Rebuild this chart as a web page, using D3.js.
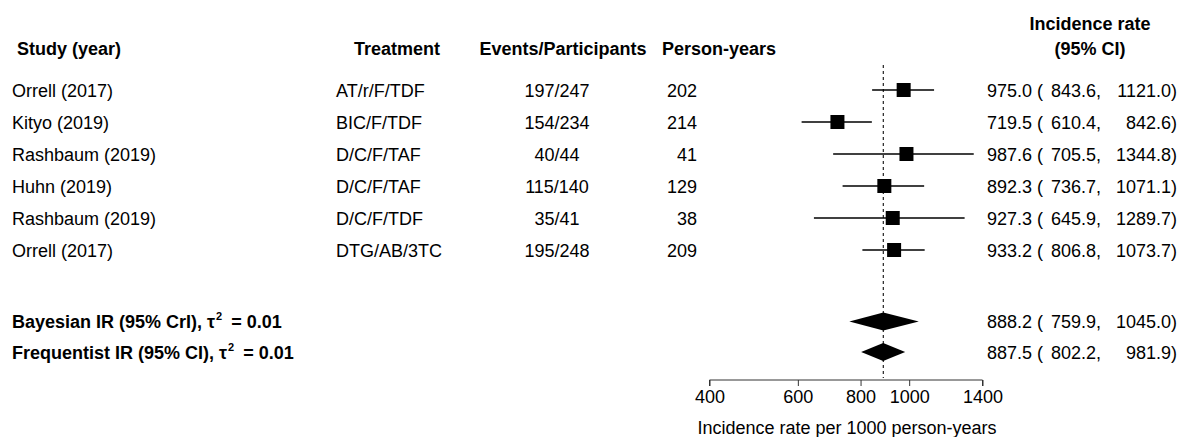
<!DOCTYPE html>
<html>
<head>
<title>Forest plot</title>
<script src="https://d3js.org/d3.v7.min.js"></script>
<style>
  body { margin: 0; background: #fff; }
  svg { display: block; font-family: "Liberation Sans", Arial, sans-serif; }
</style>
</head>
<body>
<div id="chart"></div>
<script>
// study rows
const studies = ["Orrell (2017)", "Kityo (2019)", "Rashbaum (2019)", "Huhn (2019)", "Rashbaum (2019)", "Orrell (2017)"];
const treatments = ["AT/r/F/TDF", "BIC/F/TDF", "D/C/F/TAF", "D/C/F/TAF", "D/C/F/TDF", "DTG/AB/3TC"];
const events = [197, 154, 40, 115, 35, 195];
const participants = [247, 234, 44, 140, 41, 248];
const personYears = [202, 214, 41, 129, 38, 209];
const rate = [975.0, 719.5, 987.6, 892.3, 927.3, 933.2];
const lower = [843.6, 610.4, 705.5, 736.7, 645.9, 806.8];
const upper = [1121.0, 842.6, 1344.8, 1071.1, 1289.7, 1073.7];

// pooled rows
const pooledLabels = ["Bayesian IR (95% CrI), τ", "Frequentist IR (95% CI), τ"];
const pooledTau = ["0.01", "0.01"];
const pooledRate = [888.2, 887.5];
const pooledLower = [759.9, 802.2];
const pooledUpper = [1045.0, 981.9];

const xTicks = [400, 600, 800, 1000, 1400];
const xDomain = [400, 1400];

const W = 1181, H = 437, fs = 18;

const svg = d3.select("#chart").append("svg")
  .attr("width", W).attr("height", H);

const x = d3.scaleLog().domain(xDomain).range([709.5, 982.5]);
const y = d3.scaleLinear().domain([0, 5]).range([90, 250]);
const yPooled = [321.5, 352];
const base = 6.5; // text baseline offset from row centre

// headers
const head = svg.append("g").attr("font-weight", "bold").attr("font-size", fs);
head.append("text").attr("x", 17).attr("y", 55).text("Study (year)");
head.append("text").attr("x", 397).attr("y", 55).attr("text-anchor", "middle").text("Treatment");
head.append("text").attr("x", 563).attr("y", 55).attr("text-anchor", "middle").text("Events/Participants");
head.append("text").attr("x", 719).attr("y", 55).attr("text-anchor", "middle").text("Person-years");
head.append("text").attr("x", 1090).attr("y", 30).attr("text-anchor", "middle").text("Incidence rate");
head.append("text").attr("x", 1090).attr("y", 55).attr("text-anchor", "middle").text("(95% CI)");

const fmt = d3.format(".1f");
const rows = svg.append("g").attr("font-size", fs).attr("fill", "#000");

studies.forEach((s, i) => {
  const yy = y(i) + base;
  rows.append("text").attr("x", 12).attr("y", yy).text(s);
  rows.append("text").attr("x", 336).attr("y", yy).text(treatments[i]);
  rows.append("text").attr("x", 557).attr("y", yy).attr("text-anchor", "middle")
    .text(events[i] + "/" + participants[i]);
  rows.append("text").attr("x", 697).attr("y", yy).attr("text-anchor", "end").text(personYears[i]);
});

function ciText(yy, r, lo, hi) {
  rows.append("text").attr("x", 987).attr("y", yy).text(fmt(r) + " (");
  rows.append("text").attr("x", 1051).attr("y", yy).text(fmt(lo) + ",");
  rows.append("text").attr("x", 1177).attr("y", yy).attr("text-anchor", "end").text(fmt(hi) + ")");
}
rate.forEach((r, i) => ciText(y(i) + base, r, lower[i], upper[i]));
pooledRate.forEach((r, i) => ciText(yPooled[i] + base, r, pooledLower[i], pooledUpper[i]));

// pooled labels with tau squared
pooledLabels.forEach((l, i) => {
  const t = rows.append("text").attr("x", 12).attr("y", yPooled[i] + base).attr("font-weight", "bold");
  t.append("tspan").text(l);
  t.append("tspan").attr("font-size", 11).attr("dx", 1).attr("dy", -8).text("2");
  t.append("tspan").attr("dx", 4).attr("dy", 8).text(" = " + pooledTau[i]);
});

// reference line at pooled estimate
svg.append("line")
  .attr("x1", x(pooledRate[0])).attr("x2", x(pooledRate[0]))
  .attr("y1", 65).attr("y2", 378)
  .attr("stroke", "#333").attr("stroke-width", 1.3)
  .attr("stroke-dasharray", "3,3");

// CIs and squares
const marks = svg.append("g");
marks.selectAll("line.ci").data(rate).join("line").attr("class", "ci")
  .attr("x1", (d, i) => x(lower[i])).attr("x2", (d, i) => x(upper[i]))
  .attr("y1", (d, i) => y(i)).attr("y2", (d, i) => y(i))
  .attr("stroke", "#000").attr("stroke-width", 1.4);
marks.selectAll("rect").data(rate).join("rect")
  .attr("x", d => x(d) - 7).attr("y", (d, i) => y(i) - 7)
  .attr("width", 14).attr("height", 14).attr("fill", "#000");

// diamonds
marks.selectAll("path.dia").data(pooledRate).join("path").attr("class", "dia")
  .attr("d", (d, i) => {
    const c = yPooled[i], h = 9;
    return `M${x(pooledLower[i])},${c} L${x(d)},${c - h} L${x(pooledUpper[i])},${c} L${x(d)},${c + h} Z`;
  })
  .attr("fill", "#000");

// axis
const axis = svg.append("g").attr("transform", "translate(0,380)")
  .call(d3.axisBottom(x).tickValues(xTicks).tickFormat(d3.format("d")).tickSize(6).tickPadding(4));
axis.select(".domain").attr("stroke", "#333").attr("d", `M${x(xDomain[0])},6V0H${x(xDomain[1])}V6`);
axis.selectAll(".tick line").attr("stroke", "#333");
axis.selectAll(".tick text").attr("font-size", fs).attr("font-family", "Liberation Sans, Arial, sans-serif")
  .attr("fill", "#000");

svg.append("text").attr("x", 847).attr("y", 434)
  .attr("text-anchor", "middle").attr("font-size", fs)
  .text("Incidence rate per 1000 person-years");
</script>
</body>
</html>
